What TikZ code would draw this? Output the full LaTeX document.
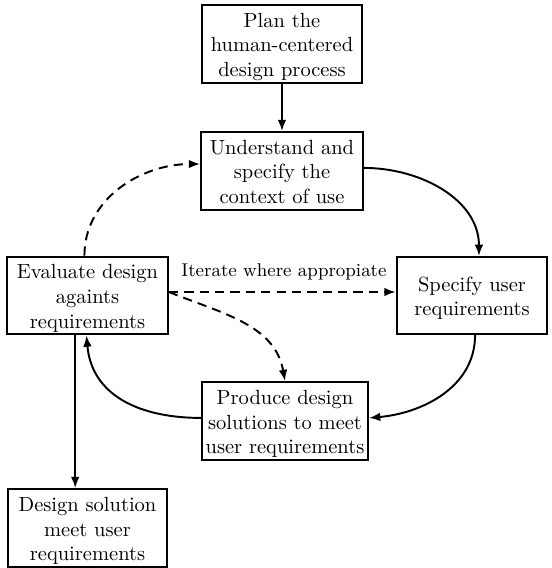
\documentclass[tikz,border=0pt]{standalone}
\usetikzlibrary{arrows.meta}
\newcommand\mybtext[1]{\raisebox{-1.5pt}[\height][\depth]{\begin{tabular}{@{}c@{}}#1\end{tabular}}}
\begin{document}
\begin{tikzpicture}[x=0.4878pt,y=-0.4878pt,
  box/.style={draw,line width=0.95pt,inner sep=1pt,font=\normalsize},
  conn/.style={line width=0.95pt,-{Latex[length=5.5pt,width=4.2pt]}},
  dconn/.style={conn,dash pattern=on 4.5pt off 3pt}]
\useasboundingbox (0,0) rectangle (551,568);
\node[box,minimum width=78pt,minimum height=38pt] (plan) at (282,44) {\mybtext{Plan the\\human-centered\\design process}};
\node[box,minimum width=79pt,minimum height=38pt] (und) at (282,171) {\mybtext{Understand and\\specify the\\context of use}};
\node[box,minimum width=78.5pt,minimum height=37.6pt] (eval) at (87.5,295.5) {\mybtext{Evaluate design\\againts\\requirements}};
\node[box,minimum width=73.5pt,minimum height=37.6pt] (spec) at (472,295.5) {\mybtext{Specify user\\requirements}};
\node[box,minimum width=81pt,minimum height=38pt] (prod) at (285,421) {\mybtext{Produce design\\solutions to meet\\user requirements}};
\node[box,minimum width=78pt,minimum height=38pt] (des) at (87.5,528) {\mybtext{Design solution\\meet user\\requirements}};
\node[font=\small] (lbl) at (284,272) {Iterate where appropiate};
\draw[conn] (plan) -- (und);
\draw[conn] ([yshift=1.5pt]und.east) to[out=0,in=90] ([xshift=3.4pt]spec.north);
\draw[conn] ([xshift=1.5pt]spec.south) to[out=-90,in=5] ([yshift=1.5pt]prod.east);
\draw[conn] ([yshift=1.5pt]prod.west) to[out=180,in=-85,looseness=1.1] ([xshift=-0.5pt]eval.south);
\draw[conn] ([xshift=-6pt]eval.south) -- ([xshift=-6pt]des.north);
\draw[dconn] ([xshift=-1.5pt]eval.north) to[out=90,in=180] ([yshift=3.4pt]und.west);
\draw[dconn] ([yshift=1.7pt]eval.east) -- ([yshift=1.7pt]spec.west);
\draw[dconn] ([yshift=1.7pt]eval.east) to[out=-22,in=100] (prod.north);
\end{tikzpicture}
\end{document}
